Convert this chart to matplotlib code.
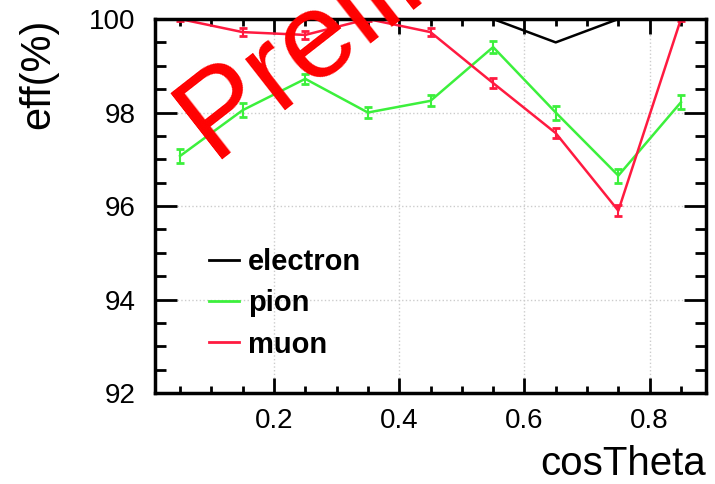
import matplotlib
matplotlib.use("Agg")
import matplotlib.pyplot as plt
from matplotlib.ticker import MultipleLocator
from matplotlib.lines import Line2D

plt.rcParams['font.family'] = ['Liberation Sans', 'DejaVu Sans']

# Daten
costheta = [0.05, 0.15, 0.25, 0.35, 0.45, 0.55, 0.65, 0.75, 0.85]
eff_electron = [100.0, 100.0, 100.0, 100.0, 100.0, 100.0, 99.5, 100.0, 100.0]
eff_pion = [97.07, 98.05, 98.72, 98.0, 98.25, 99.4, 98.0, 96.65, 98.22]
eff_muon = [100.0, 99.72, 99.66, 100.0, 99.72, 98.63, 97.56, 95.9, 100.0]
err_pion = [0.15, 0.15, 0.1, 0.12, 0.12, 0.13, 0.15, 0.15, 0.15]
err_muon = [0.05, 0.08, 0.08, 0.05, 0.08, 0.1, 0.1, 0.12, 0.05]

col_el = 'black'
col_pi = '#3cf03c'
col_mu = '#ff1a40'

fig = plt.figure(figsize=(7.15, 4.84), dpi=100)
ax = fig.add_axes([0.2168, 0.188, 0.7706, 0.7727])

ax.plot(costheta, eff_electron, color=col_el, lw=1.8)
ax.errorbar(costheta, eff_pion, yerr=err_pion, color=col_pi, lw=1.8,
            elinewidth=1.5, capsize=3, capthick=2)
ax.errorbar(costheta, eff_muon, yerr=err_muon, color=col_mu, lw=1.8,
            elinewidth=1.5, capsize=3, capthick=2)

ax.set_xlim(0.01, 0.89)
ax.set_ylim(92, 100)

ax.xaxis.set_major_locator(MultipleLocator(0.2))
ax.xaxis.set_minor_locator(MultipleLocator(0.05))
ax.yaxis.set_major_locator(MultipleLocator(2))
ax.yaxis.set_minor_locator(MultipleLocator(0.5))

ax.tick_params(axis='both', which='both', direction='in', top=True, right=True,
               labelsize=20, width=2)
ax.tick_params(axis='y', which='major', length=16)
ax.tick_params(axis='y', which='minor', length=8)
ax.tick_params(axis='x', which='major', length=11)
ax.tick_params(axis='x', which='minor', length=5)
ax.tick_params(axis='x', pad=11)
ax.tick_params(axis='y', pad=14)

for sp in ax.spines.values():
    sp.set_linewidth(2.5)

ax.grid(True, which='major', color='#cccccc', linestyle=':', lw=1)

ax.set_xlabel('cosTheta', fontsize=29, loc='right', labelpad=8)
ax.set_ylabel('eff(%)', fontsize=30, loc='top', labelpad=22)

handles = [Line2D([], [], color=col_el, lw=2),
           Line2D([], [], color=col_pi, lw=2),
           Line2D([], [], color=col_mu, lw=2)]
leg = ax.legend(handles, ['electron', 'pion', 'muon'], loc='upper left',
                bbox_to_anchor=(0.05, 0.457), frameon=False,
                prop={'size': 21, 'weight': 'bold'}, handlelength=1.05,
                handletextpad=0.3, labelspacing=0.45)

fig.text(0.298, 0.670, 'Preliminary', color='red', fontsize=88,
         rotation=38, ha='left', va='baseline', rotation_mode='anchor')

fig.savefig('out.png', dpi=100)
